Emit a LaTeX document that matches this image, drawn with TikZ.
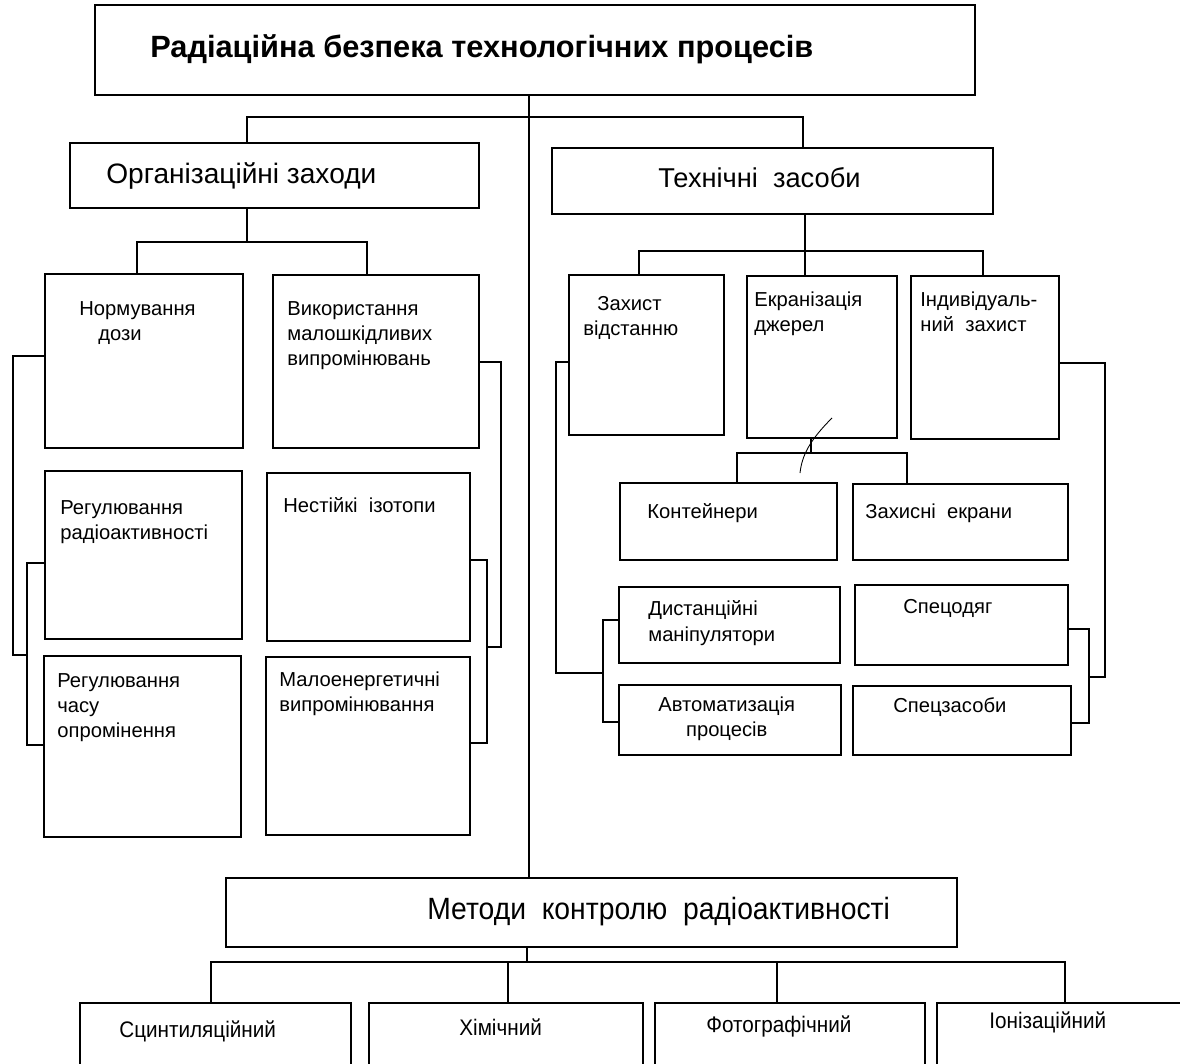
\documentclass[tikz,border=0pt]{standalone}
\usepackage{fontspec}
\setmainfont{Liberation Sans}
\newfontfamily\narrowsans[FakeStretch=0.92]{Liberation Sans}
\usetikzlibrary{fit,calc}

\begin{document}
\begin{tikzpicture}[
    x=0.02cm, y=-0.02cm,
    box/.style={draw, line width=0.9pt, inner sep=0pt},
    link/.style={line width=0.9pt},
    lbl/.style={inner sep=0pt, align=left, anchor=north west,
                font=\fontsize{11.5}{14.2}\selectfont},
    lbl1/.style={inner sep=0pt, anchor=base west, font=\fontsize{11.5}{14.2}\selectfont},
    head/.style={inner sep=0pt, anchor=base west, font=\fontsize{16}{19}\selectfont},
    meth/.style={inner sep=0pt, anchor=base west, font=\narrowsans\fontsize{12.8}{15}\selectfont}
  ]
  \clip (0,0) rectangle (1180,1064);

  % boxes
  \node[box, fit={(95,5) (975,95)}]      (title)   {};
  \node[box, fit={(70,143) (479,208)}]   (org)     {};
  \node[box, fit={(552,148) (993,214)}]  (tech)    {};
  \node[box, fit={(45,274) (243,448)}]   (norm)    {};
  \node[box, fit={(273,275) (479,448)}]  (vykor)   {};
  \node[box, fit={(45,471) (242,639)}]   (rrad)    {};
  \node[box, fit={(267,473) (470,641)}]  (nest)    {};
  \node[box, fit={(44,656) (241,837)}]   (rchas)   {};
  \node[box, fit={(266,657) (470,835)}]  (malo)    {};
  \node[box, fit={(569,275) (724,435)}]  (zakh)    {};
  \node[box, fit={(747,276) (897,438)}]  (ekran)   {};
  \node[box, fit={(911,276) (1059,439)}] (indiv)   {};
  \node[box, fit={(620,483) (837,560)}]  (kont)    {};
  \node[box, fit={(853,484) (1068,560)}] (zekr)    {};
  \node[box, fit={(619,587) (840,663)}]  (dyst)    {};
  \node[box, fit={(855,585) (1068,665)}] (spodyah) {};
  \node[box, fit={(619,685) (841,755)}]  (avto)    {};
  \node[box, fit={(853,686) (1071,755)}] (spzas)   {};
  \node[box, fit={(226,878) (957,947)}]  (metod)   {};
  \node[box, fit={(80,1003) (351,1090)}]  (scynt)  {};
  \node[box, fit={(369,1003) (643,1090)}] (khim)   {};
  \node[box, fit={(655,1003) (925,1090)}] (foto)   {};
  \node[box, fit={(937,1003) (1200,1090)}] (ioniz) {};

  % texts
  \node[head, font=\bfseries\fontsize{17.5}{21}\selectfont] (title-t) at (150,58)
    {Радіаційна безпека технологічних процесів};
  \node[head] (org-t)  at (106,184) {Організаційні заходи};
  \node[head, font=\fontsize{15.5}{18}\selectfont] (tech-t) at (658,188) {Технічні\ \ засоби};
  \node[lbl] (norm-t)  at (79,301)  {Нормування\\\hspace*{10.8pt}дози};
  \node[lbl] (vykor-t) at (287,301) {Використання\\малошкідливих\\випромінювань};
  \node[lbl] (rrad-t)  at (60,500)  {Регулювання\\радіоактивності};
  \node[lbl1] (nest-t) at (283,512) {Нестійкі\ \ ізотопи};
  \node[lbl] (rchas-t) at (57,673)  {Регулювання\\часу\\опромінення};
  \node[lbl] (malo-t)  at (279,672) {Малоенергетичні\\випромінювання};
  \node[lbl] (zakh-t)  at (583,296) {\hspace*{8pt}Захист\\відстанню};
  \node[lbl] (ekran-t) at (754,292) {Екранізація\\джерел};
  \node[lbl] (indiv-t) at (920,292) {Індивідуаль-\\ний\ \ захист};
  \node[lbl1] (kont-t) at (647,518) {Контейнери};
  \node[lbl1] (zekr-t) at (865,518) {Захисні\ \ екрани};
  \node[lbl, font=\fontsize{11.5}{15}\selectfont] (dyst-t) at (648,600) {Дистанційні\\маніпулятори};
  \node[lbl1] (spodyah-t) at (903,613) {Спецодяг};
  \node[lbl, align=center] (avto-t) at (658,697) {Автоматизація\\процесів};
  \node[lbl1] (spzas-t) at (893,712) {Спецзасоби};
  \node[head, font=\narrowsans\fontsize{17.5}{21}\selectfont] (metod-t) at (427,919)
    {Методи\ \ контролю\ \ радіоактивності};
  \node[meth] (scynt-t) at (119,1037) {Сцинтиляційний};
  \node[meth] (khim-t)  at (459,1035) {Хімічний};
  \node[meth] (foto-t)  at (706,1032) {Фотографічний};
  \node[meth] (ioniz-t) at (989,1028) {Іонізаційний};

  % trunk and branches
  \coordinate (trunk) at (529,0);
  \draw[link] (title.south -| trunk) -- (metod.north -| trunk);

  \coordinate (busL) at (247,117);
  \coordinate (busR) at (803,117);
  \draw[link] (org.north -| busL) -- (busL) -- (busR) -- (tech.north -| busR);

  \coordinate (orgJ) at (247,242);
  \coordinate (orgL) at (137,242);
  \coordinate (orgR) at (367,242);
  \draw[link] (org.south -| orgJ) -- (orgJ);
  \draw[link] (norm.north -| orgL) -- (orgL) -- (orgR) -- (vykor.north -| orgR);

  \coordinate (techJ) at (805,251);
  \coordinate (techL) at (639,251);
  \coordinate (techR) at (983,251);
  \draw[link] (tech.south -| techJ) -- (ekran.north -| techJ);
  \draw[link] (zakh.north -| techL) -- (techL) -- (techR) -- (indiv.north -| techR);

  \coordinate (ekrJ) at (811,453);
  \coordinate (ekrL) at (737,453);
  \coordinate (ekrR) at (907,453);
  \draw[link] (ekran.south -| ekrJ) -- (ekrJ);
  \draw[link] (kont.north -| ekrL) -- (ekrL) -- (ekrR) -- (zekr.north -| ekrR);

  \coordinate (metJ) at (527,962);
  \coordinate (metA) at (211,962);
  \coordinate (metB) at (508,962);
  \coordinate (metC) at (777,962);
  \coordinate (metD) at (1065,962);
  \draw[link] (metod.south -| metJ) -- (metJ);
  \draw[link] (scynt.north -| metA) -- (metA) -- (metD) -- (ioniz.north -| metD);
  \draw[link] (khim.north -| metB) -- (metB);
  \draw[link] (foto.north -| metC) -- (metC);

  % side brackets
  \coordinate (brL1) at (13,356);
  \coordinate (brL2) at (13,655);
  \coordinate (brL3) at (27,655);
  \coordinate (brL4) at (27,563);
  \coordinate (brL5) at (27,745);
  \draw[link] (norm.west |- brL1) -- (brL1) -- (brL2) -- (brL3);
  \draw[link] (rrad.west |- brL4) -- (brL4) -- (brL5) -- (rchas.west |- brL5);

  \coordinate (brR1) at (501,362);
  \coordinate (brR2) at (501,647);
  \coordinate (brR3) at (487,647);
  \coordinate (brR4) at (487,560);
  \coordinate (brR5) at (487,743);
  \draw[link] (vykor.east |- brR1) -- (brR1) -- (brR2) -- (brR3);
  \draw[link] (nest.east |- brR4) -- (brR4) -- (brR5) -- (malo.east |- brR5);

  \coordinate (btL1) at (556,362);
  \coordinate (btL2) at (556,673);
  \coordinate (btL3) at (603,673);
  \coordinate (btL4) at (603,620);
  \coordinate (btL5) at (603,722);
  \draw[link] (zakh.west |- btL1) -- (btL1) -- (btL2) -- (btL3);
  \draw[link] (dyst.west |- btL4) -- (btL4) -- (btL5) -- (avto.west |- btL5);

  \coordinate (btR1) at (1105,363);
  \coordinate (btR2) at (1105,677);
  \coordinate (btR3) at (1089,677);
  \coordinate (btR4) at (1089,629);
  \coordinate (btR5) at (1089,723);
  \draw[link] (indiv.east |- btR1) -- (btR1) -- (btR2) -- (btR3);
  \draw[link] (spodyah.east |- btR4) -- (btR4) -- (btR5) -- (spzas.east |- btR5);

  % pen stroke across the screening branch
  \draw[line width=0.5pt] (832,418) .. controls (810,440) and (802,455) .. (800,473);
\end{tikzpicture}
\end{document}
